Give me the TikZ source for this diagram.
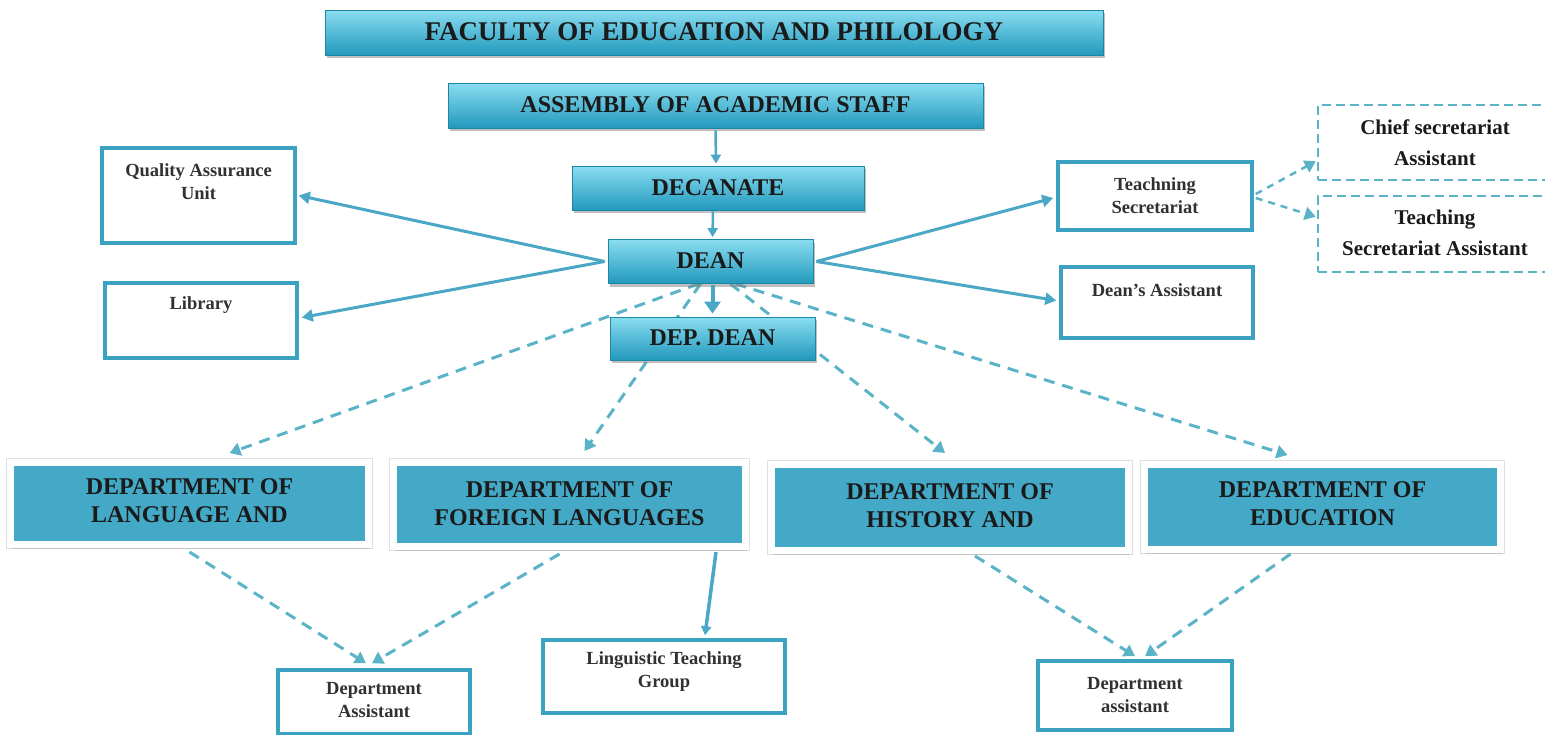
\documentclass[tikz,border=0pt]{standalone}
\usepackage{fontspec}
\setmainfont{Liberation Serif}
\usetikzlibrary{arrows.meta,shadows,calc,backgrounds}
\definecolor{topA}{HTML}{8ADDF0}
\definecolor{topM}{HTML}{45BCDC}
\definecolor{topB}{HTML}{2299BD}
\definecolor{topD}{HTML}{1B86A6}
\definecolor{framec}{HTML}{3CA2C2}
\definecolor{dashc}{HTML}{5AB3C7}
\definecolor{deptc}{HTML}{43A9C7}
\definecolor{arrc}{HTML}{4AA8C6}
\definecolor{txt}{HTML}{1A1A1A}
\tikzset{
  topbox/.style={rectangle, top color=topA, middle color=topM, bottom color=topB, draw=topD, line width=0.8pt,
    drop shadow={opacity=0.5, shadow xshift=2pt, shadow yshift=-3pt}, inner sep=0pt},
  toptext/.style={font=\bfseries\fontsize{24}{26}\selectfont, text=txt, inner sep=0pt},
  whitebox/.style={rectangle, draw=framec, line width=3.5pt, fill=white, inner sep=0pt},
  dashbox/.style={rectangle, draw=dashc, line width=2.5pt, dash pattern=on 9pt off 5pt, fill=white, inner sep=0pt},
  deptbox/.style={rectangle, fill=deptc, draw=white, line width=7pt,
    preaction={draw=black!12, line width=9.5pt},
    drop shadow={opacity=0.3, shadow xshift=1pt, shadow yshift=-4pt}, inner sep=0pt},
  depttext/.style={font=\bfseries\fontsize{24}{28}\selectfont, text=txt, align=center, inner sep=0pt},
  smalltext/.style={font=\bfseries\fontsize{18.5}{23}\selectfont, text=txt!90, align=center, inner sep=0pt},
  bigtext/.style={font=\bfseries\fontsize{21}{31}\selectfont, text=txt, align=center, inner sep=0pt},
  solidarrow/.style={draw=arrc, line width=3pt, -{Triangle[length=11pt,width=12pt]}},
  dasharrow/.style={draw=dashc, line width=3pt, dash pattern=on 11pt off 8pt, -{Triangle[length=11pt,width=13pt]}},
}
\begin{document}
\begin{tikzpicture}[x=1pt,y=-1pt]
\useasboundingbox (0,0) rectangle (1545,734);

% top boxes
\node[topbox, minimum width=778pt, minimum height=45pt] (fac) at (714,32.5) {};
\node[toptext, font=\bfseries\fontsize{27}{29}\selectfont] (fact) at (714,32) {FACULTY OF EDUCATION AND PHILOLOGY};
\node[topbox, minimum width=535pt, minimum height=45pt] (asm) at (715.5,105.5) {};
\node[toptext] (asmt) at (715.5,105) {ASSEMBLY OF ACADEMIC STAFF};
\node[topbox, minimum width=292pt, minimum height=44pt] (dec) at (718,188) {};
\node[toptext] (dect) at (718,187.5) {DECANATE};
\node[topbox, minimum width=205pt, minimum height=44pt] (dean) at (710.5,261.5) {};
\node[toptext] (deant) at (710.5,261) {DEAN};
\node[topbox, minimum width=205pt, minimum height=43pt] (dep) at (712.5,338.5) {};
\node[toptext] (dept) at (712.5,338) {DEP. DEAN};

% left boxes
\node[whitebox, minimum width=193pt, minimum height=95pt] (qa) at (198.5,195.5) {};
\node[smalltext] (qat) at (198.5,182) {Quality Assurance\\Unit};
\node[whitebox, minimum width=192pt, minimum height=75pt] (lib) at (201,320.5) {};
\node[smalltext] (libt) at (201,305) {Library};

% right boxes
\node[whitebox, minimum width=194pt, minimum height=68pt] (teach) at (1155,196) {};
\node[smalltext] (teacht) at (1155,196) {Teachning\\Secretariat};
\node[whitebox, minimum width=192pt, minimum height=71pt] (dasst) at (1157,302.5) {};
\node[smalltext] (dasstt) at (1157,290) {Dean’s Assistant};
\node[dashbox, minimum width=242pt, minimum height=75pt] (chief) at (1439,142.5) {};
\node[bigtext] (chieft) at (1435,142.5) {Chief secretariat\\Assistant};
\node[dashbox, minimum width=242pt, minimum height=76pt] (tsa) at (1439,234) {};
\node[bigtext] (tsat) at (1435,233) {Teaching\\Secretariat Assistant};

% departments
\node[deptbox, minimum width=358pt, minimum height=82pt] (lang) at (189.5,503.5) {};
\node[depttext] (langt) at (189.5,500.5) {DEPARTMENT OF\\LANGUAGE AND};
\node[deptbox, minimum width=352pt, minimum height=84pt] (forg) at (569.5,504.5) {};
\node[depttext] (forgt) at (569.5,504) {DEPARTMENT OF\\FOREIGN LANGUAGES};
\node[deptbox, minimum width=357pt, minimum height=86pt] (hist) at (950,507.5) {};
\node[depttext] (histt) at (950,506) {DEPARTMENT OF\\HISTORY AND};
\node[deptbox, minimum width=356pt, minimum height=85pt] (edu) at (1322.5,507) {};
\node[depttext] (edut) at (1322.5,503.5) {DEPARTMENT OF\\EDUCATION};

% bottom boxes
\node[whitebox, minimum width=192pt, minimum height=64pt] (da1) at (374,702) {};
\node[smalltext] (da1t) at (374,700) {Department\\Assistant};
\node[whitebox, minimum width=242pt, minimum height=73pt] (ling) at (664,676.5) {};
\node[smalltext] (lingt) at (664,672) {Linguistic Teaching\\Group};
\node[whitebox, minimum width=194pt, minimum height=69pt] (da2) at (1135,695.5) {};
\node[smalltext] (da2t) at (1135,695) {Department\\assistant};

% connectors behind the boxes
\begin{scope}[on background layer]
\fill[white] (0,0) rectangle (1545,734);
\draw[dasharrow] ($(dean.south)+(-12,0)$) -- ($(lang.north)+(40,-6)$);
\draw[dasharrow] ($(dean.south)+(-10,0)$) -- ($(forg.north)+(15,-8)$);
\draw[dasharrow] ($(dean.south)+(20,0)$) -- ($(hist.north)+(-5,-8)$);
\draw[dasharrow] ($(dean.south)+(25,0)$) -- ($(edu.north)+(-35,-6)$);
\end{scope}

\draw[draw=arrc, line width=2.5pt, -{Triangle[length=9pt,width=10pt]}] ($(asm.south)+(0,2)$) -- ($(dec.north)+(-2,-2)$);
\draw[draw=arrc, line width=2.5pt, -{Triangle[length=9pt,width=10pt]}] ($(dec.south)+(-5,1)$) -- ($(dean.north)+(2,-2)$);
\draw[draw=arrc, line width=4pt, -{Triangle[length=12pt,width=16pt]}] ($(dean.south)+(2,1)$) -- ($(dep.north)+(0,-3)$);

\draw[solidarrow] ($(dean.west)+(-3,0)$) -- ($(qa.east)+(2,0)$);
\draw[solidarrow] ($(dean.west)+(-3,0)$) -- ($(lib.east)+(3,-3)$);
\draw[solidarrow] ($(dean.east)+(3,0)$) -- ($(teach.west)+(-3,2)$);
\draw[solidarrow] ($(dean.east)+(3,0)$) -- ($(dasst.west)+(-3,-2)$);

\draw[dasharrow, line width=2.5pt, dash pattern=on 7pt off 6pt] ($(teach.east)+(2,-2)$) -- ($(chief.south west)+(-1,-20)$);
\draw[dasharrow, line width=2.5pt, dash pattern=on 7pt off 6pt] ($(teach.east)+(2,2)$) -- ($(tsa.north west)+(-1,22)$);

\draw[dasharrow] ($(lang.south)+(0,4)$) -- ($(da1.north)+(-8,-5)$);
\draw[dasharrow] ($(forg.south)+(-10,4)$) -- ($(da1.north)+(-2,-5)$);
\draw[dasharrow] ($(hist.south)+(25,2)$) -- ($(da2.north)+(0,-3)$);
\draw[dasharrow] ($(edu.south)+(-32,1)$) -- ($(da2.north)+(10,-3)$);

\draw[draw=arrc, line width=3.5pt, -{Triangle[length=9pt,width=10pt]}] ($(forg.south east)+(-33,2)$) -- ($(ling.north)+(41,-3)$);
\end{tikzpicture}
\end{document}
